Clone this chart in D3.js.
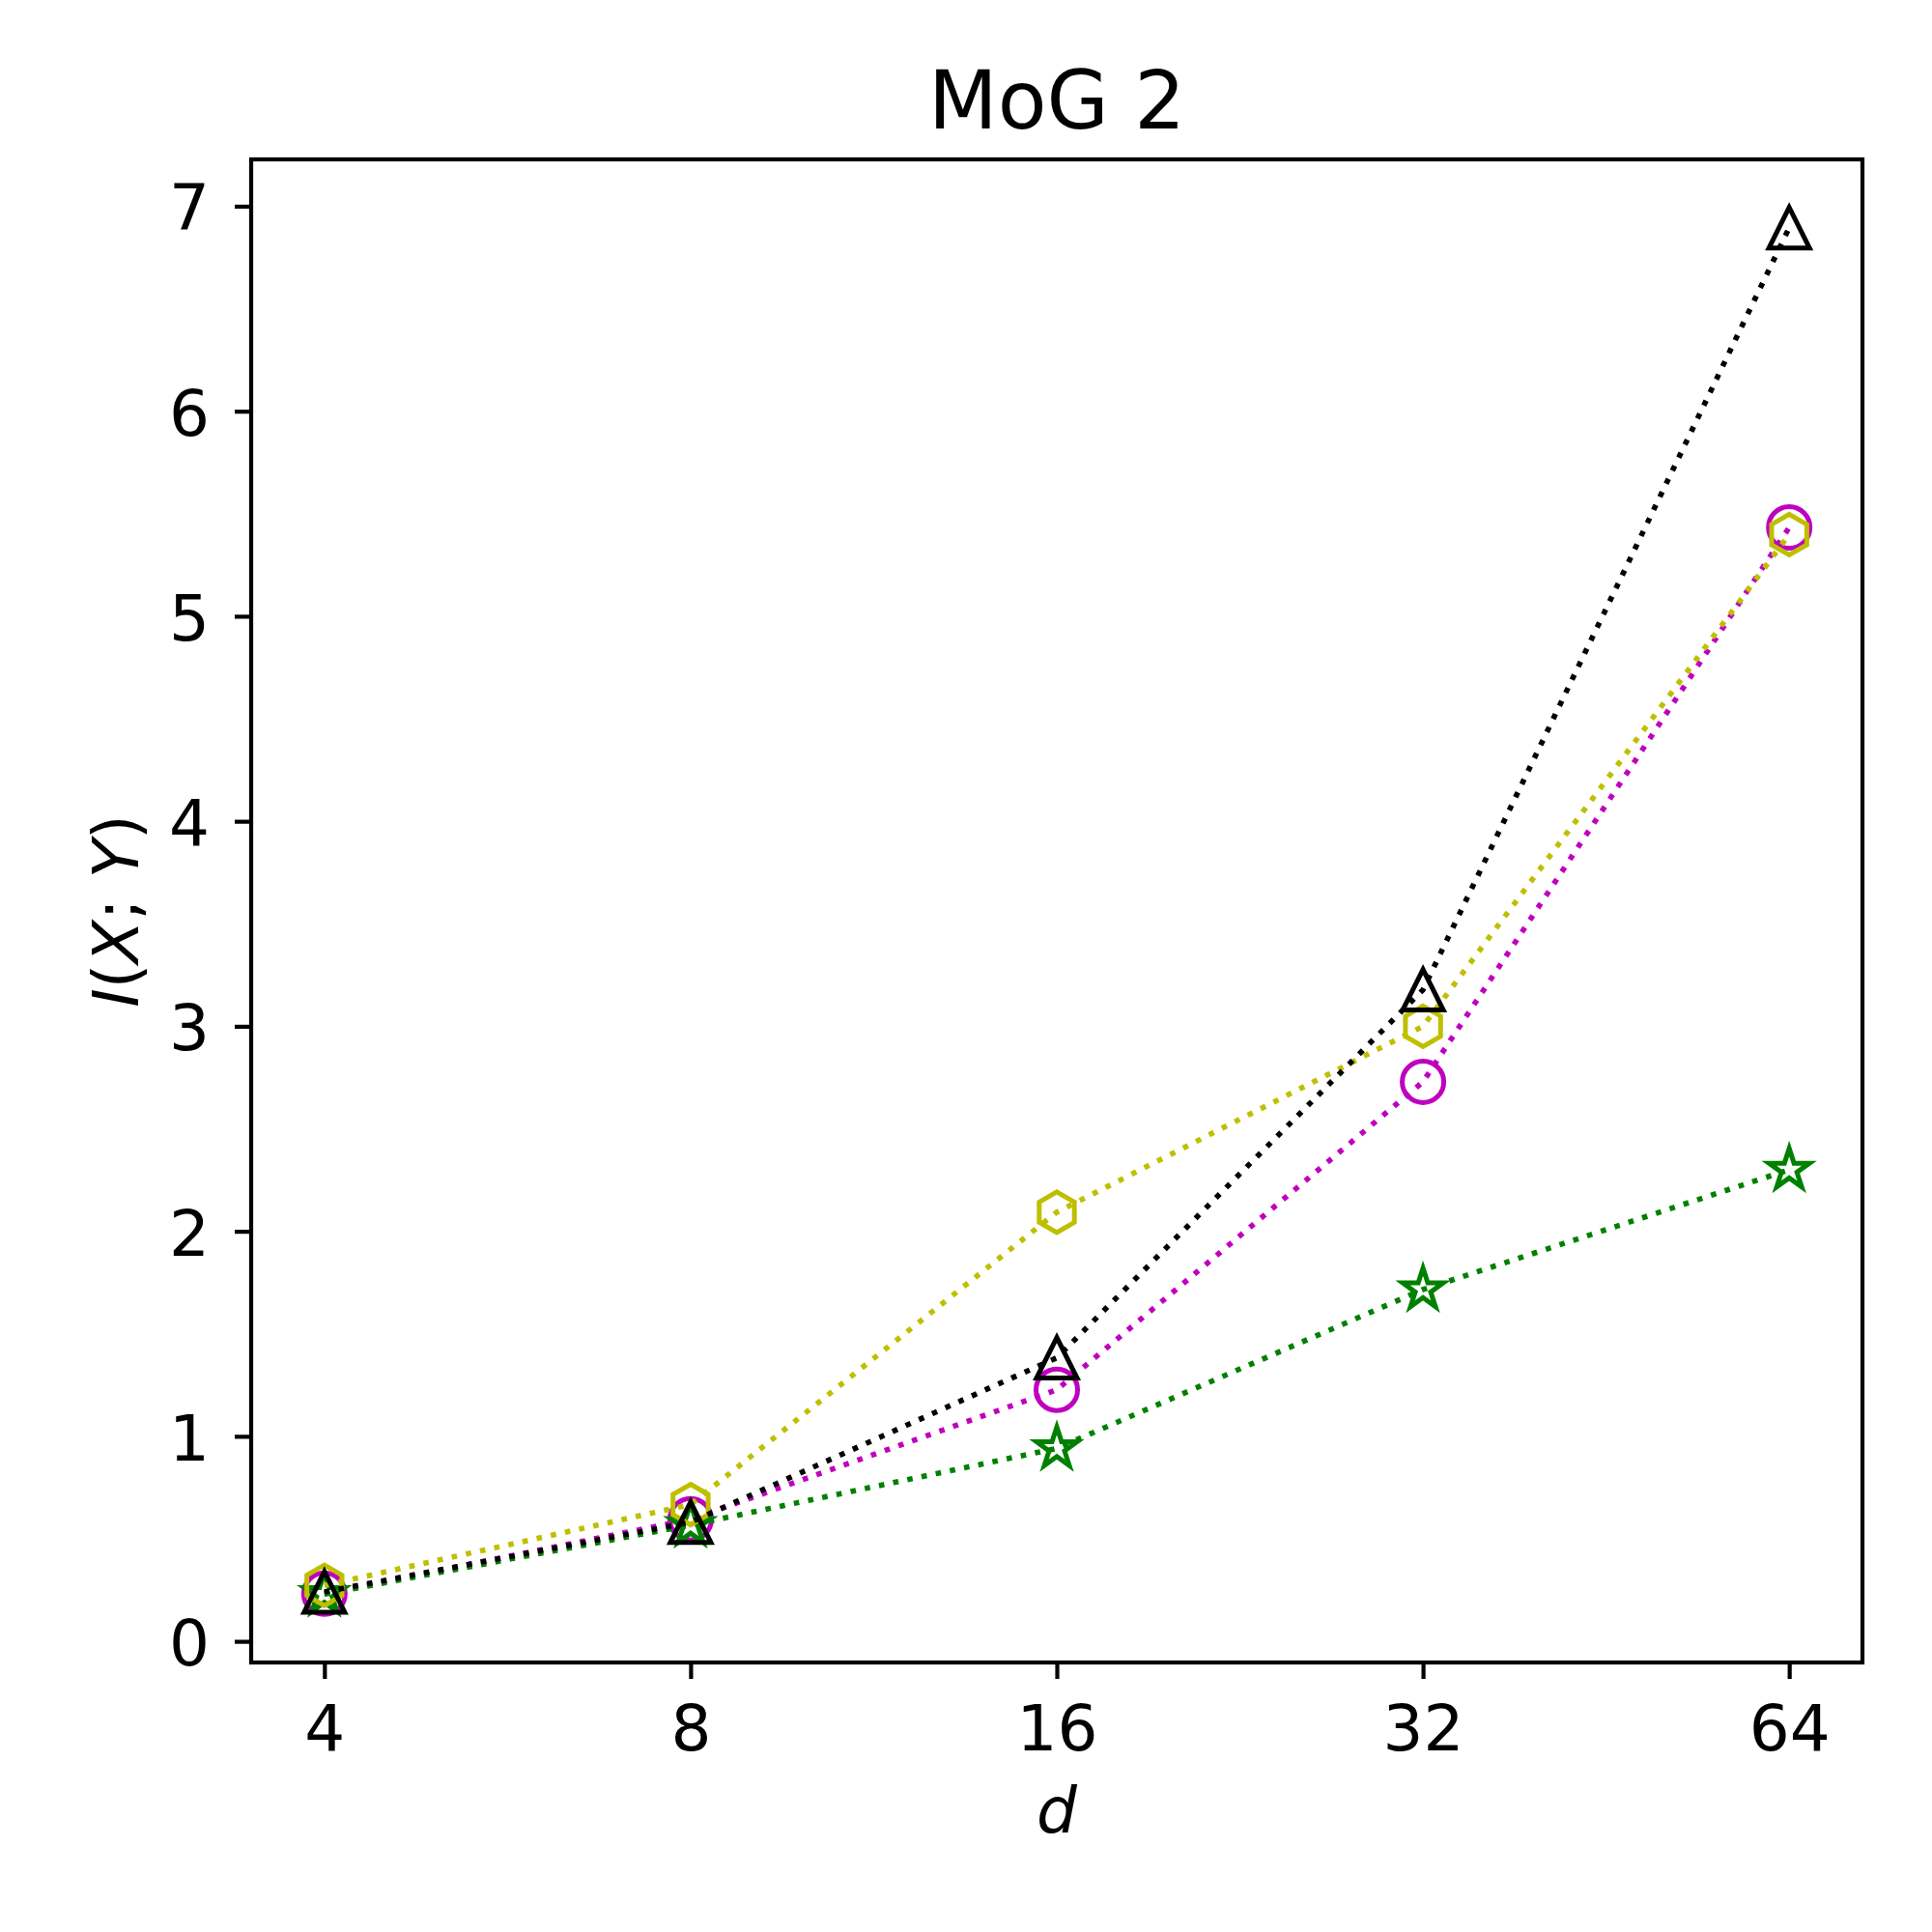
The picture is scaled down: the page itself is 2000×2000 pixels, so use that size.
<!DOCTYPE html>
<head>
    <meta charset="utf-8">
    <style>
        body { margin: 0; background: #fff; }
        #chart { width: 2000px; height: 2000px; }
        svg { font-family: 'DejaVu Sans', sans-serif; }
        .axis text { font-family: 'DejaVu Sans', sans-serif; font-size: 66px; fill: #000; }
        .axis line { stroke: #000; stroke-width: 4.2px; }
        .axis .domain { display: none; }
        .series path.line { fill: none; stroke-width: 5.6px; stroke-dasharray: 5.6 9.4; }
        .series path.marker { fill: none; stroke-width: 5px; stroke-linejoin: miter; }
    </style>
</head>
<body>
    <div id="chart"></div>
    <script src="https://d3js.org/d3.v7.min.js"></script>
    <script>
        // values
        var dims = [4, 8, 16, 32, 64];
        var circleVals = [0.232, 0.595, 1.227, 2.729, 5.433];
        var starVals = [0.230, 0.567, 0.941, 1.716, 2.300];
        var hexVals = [0.273, 0.667, 2.093, 3.000, 5.398];
        var triVals = [0.241, 0.581, 1.383, 3.178, 6.895];
        var yTicks = [0, 1, 2, 3, 4, 5, 6, 7];

        var series = [
            {vals: circleVals, color: "#bf00bf", shape: "circle"},
            {vals: starVals,   color: "#008000", shape: "star"},
            {vals: hexVals,    color: "#bfbf00", shape: "hexagon"},
            {vals: triVals,    color: "#000000", shape: "triangle"}
        ];

        var margin = {top: 165, right: 72, bottom: 279, left: 260},
            width = 2000 - margin.left - margin.right,
            height = 2000 - margin.top - margin.bottom;

        var svg = d3.select("#chart").append("svg")
                .attr("width", 2000)
                .attr("height", 2000);
        var g = svg.append("g")
                .attr("transform", "translate(" + margin.left + "," + margin.top + ")");

        // matplotlib style 5% margins (x in log2 space)
        var lx = d3.extent(dims, function(d) { return Math.log2(d); });
        var xPad = (lx[1] - lx[0]) * 0.05;
        var x = d3.scaleLog().base(2)
            .domain([Math.pow(2, lx[0] - xPad), Math.pow(2, lx[1] + xPad)])
            .range([0, width]);

        var all = [].concat(circleVals, starVals, hexVals, triVals);
        var ymin = d3.min(all), ymax = d3.max(all);
        var yPad = (ymax - ymin) * 0.05;
        var y = d3.scaleLinear()
            .domain([ymin - yPad, ymax + yPad])
            .range([height, 0]);

        // marker shapes like matplotlib (r = half marker size)
        var r = 21;
        function markerPath(shape) {
            var p = d3.path();
            if (shape == "circle") {
                p.arc(0, 0, r + 0.5, 0, 2 * Math.PI);
            } else if (shape == "triangle") {
                p.moveTo(0, -r); p.lineTo(-r, r); p.lineTo(r, r); p.closePath();
            } else if (shape == "hexagon") {
                for (var i = 0; i < 6; i++) {
                    var a = -Math.PI / 2 + i * Math.PI / 3;
                    if (i == 0) p.moveTo(r * Math.cos(a), r * Math.sin(a));
                    else p.lineTo(r * Math.cos(a), r * Math.sin(a));
                }
                p.closePath();
            } else if (shape == "star") {
                var rs = r * 1.05, inner = 0.381966 * rs;
                for (var j = 0; j < 10; j++) {
                    var b = -Math.PI / 2 + j * Math.PI / 5;
                    var rr = j % 2 == 0 ? rs : inner;
                    if (j == 0) p.moveTo(rr * Math.cos(b), rr * Math.sin(b));
                    else p.lineTo(rr * Math.cos(b), rr * Math.sin(b));
                }
                p.closePath();
            }
            return p.toString();
        }

        var line = d3.line()
            .x(function(d) { return x(d[0]); })
            .y(function(d) { return y(d[1]); });

        series.forEach(function(s) {
            var pts = dims.map(function(d, i) { return [d, s.vals[i]]; });
            var sg = g.append("g").attr("class", "series");
            sg.append("path")
                .attr("class", "line")
                .attr("stroke", s.color)
                .attr("d", line(pts));
            sg.selectAll(".marker")
                .data(pts)
                .enter().append("path")
                .attr("class", "marker")
                .attr("stroke", s.color)
                .attr("transform", function(d) { return "translate(" + x(d[0]) + "," + y(d[1]) + ")"; })
                .attr("d", markerPath(s.shape));
        });

        // axes
        g.append("g")
            .attr("class", "axis")
            .attr("transform", "translate(0," + height + ")")
            .call(d3.axisBottom(x).tickValues(dims).tickFormat(d3.format("d"))
                .tickSize(17).tickPadding(27));

        g.append("g")
            .attr("class", "y axis")
            .call(d3.axisLeft(y).tickValues(yTicks).tickFormat(d3.format("d"))
                .tickSize(17).tickPadding(26))
            .selectAll("text").attr("dy", "0.37em");

        // frame
        g.append("rect")
            .attr("width", width)
            .attr("height", height)
            .attr("fill", "none")
            .attr("stroke", "#000")
            .attr("stroke-width", 4.2);

        // title
        svg.append("text")
            .attr("x", margin.left + width / 2)
            .attr("y", 133)
            .attr("text-anchor", "middle")
            .attr("font-size", "83px")
            .text("MoG 2");

        // x label
        svg.append("text")
            .attr("x", margin.left + width / 2)
            .attr("y", 1897)
            .attr("text-anchor", "middle")
            .attr("font-size", "66px")
            .attr("font-style", "italic")
            .text("d");

        // y label
        var yl = svg.append("text")
            .attr("transform", "translate(143," + (margin.top + height / 2) + ") rotate(-90)")
            .attr("text-anchor", "middle")
            .attr("font-size", "66px");
        yl.append("tspan").attr("font-style", "italic").text("I");
        yl.append("tspan").text("(");
        yl.append("tspan").attr("font-style", "italic").text("X");
        yl.append("tspan").text("; ");
        yl.append("tspan").attr("font-style", "italic").text("Y");
        yl.append("tspan").text(")");
    </script>
</body>
